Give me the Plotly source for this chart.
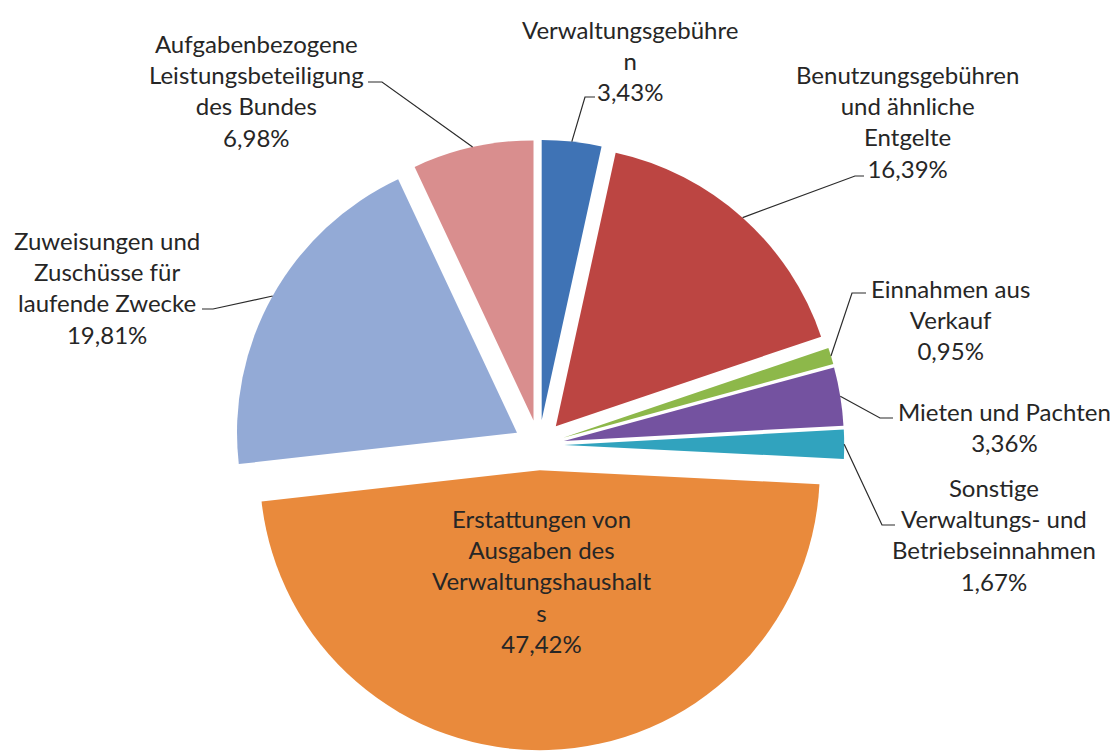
import math
import plotly.graph_objects as go

# ---- data ----
labels = [
    "Verwaltungsgebühren",
    "Benutzungsgebühren und ähnliche Entgelte",
    "Einnahmen aus Verkauf",
    "Mieten und Pachten",
    "Sonstige Verwaltungs- und Betriebseinnahmen",
    "Erstattungen von Ausgaben des Verwaltungshaushalts",
    "Zuweisungen und Zuschüsse für laufende Zwecke",
    "Aufgabenbezogene Leistungsbeteiligung des Bundes",
]
values = [3.43, 16.39, 0.95, 3.36, 1.67, 47.42, 19.81, 6.98]
label_text = [
    "Verwaltungsgebühre<br>n<br>3,43%",
    "Benutzungsgebühren<br>und ähnliche<br>Entgelte<br>16,39%",
    "Einnahmen aus<br>Verkauf<br>0,95%",
    "Mieten und Pachten<br>3,36%",
    "Sonstige<br>Verwaltungs- und<br>Betriebseinnahmen<br>1,67%",
    "Erstattungen von<br>Ausgaben des<br>Verwaltungshaushalt<br>s<br>47,42%",
    "Zuweisungen und<br>Zuschüsse für<br>laufende Zwecke<br>19,81%",
    "Aufgabenbezogene<br>Leistungsbeteiligung<br>des Bundes<br>6,98%",
]
colors = ["#3F73B5", "#BC4542", "#8DB84A", "#7452A0",
          "#31A3BE", "#E98A3C", "#93AAD6", "#D98E8E"]

# ---- layout (pixels) ----
W, H = 1119, 751
CX, CY = 539.0, 445.0
R = 280.0
PULL = 0.09
S = 2 * R * (1 + PULL)

# label centre (x, y of block centre) and leader elbow / end points (None = no leader)
label_pos = [
    (630, 61), (908, 121), (950, 319), (1004, 427),
    (994, 534), (541, 581), (107, 288), (256, 91),
]
leaders = [
    ((585, 97), (595, 97)),
    ((855, 176), (864, 176)),
    ((852, 293), (866, 293)),
    ((880, 418), (893, 418)),
    ((882, 525), (895, 525)),
    None,
    ((213, 309), (202, 309)),
    ((382, 82), (368, 82)),
]

def px(x):
    return x / W

def py(y):
    return 1 - y / H

fig = go.Figure(go.Pie(
    labels=labels,
    values=values,
    sort=False,
    direction="clockwise",
    rotation=0,
    pull=[PULL] * len(values),
    marker=dict(colors=colors, line=dict(width=0)),
    textinfo="none",
    hoverinfo="label+percent",
    showlegend=False,
    domain=dict(x=[px(CX - S / 2), px(CX + S / 2)],
                y=[max(0, py(CY + S / 2)), py(CY - S / 2)]),
))

total = sum(values)
cum = 0.0
shapes = []
annotations = []
for i, v in enumerate(values):
    mid = (cum + v / 2) / total * 2 * math.pi
    cum += v
    rr = R * (1 + PULL)
    ex = CX + rr * math.sin(mid)
    ey = CY - rr * math.cos(mid)
    if leaders[i] is not None:
        (bx, by), (qx, qy) = leaders[i]
        shapes.append(dict(
            type="path", xref="paper", yref="paper",
            path=f"M {px(ex)},{py(ey)} L {px(bx)},{py(by)} L {px(qx)},{py(qy)}",
            line=dict(color="#2b2b2b", width=1.2),
        ))
    lx, ly = label_pos[i]
    annotations.append(dict(
        x=px(lx), y=py(ly), xref="paper", yref="paper",
        text=label_text[i], showarrow=False, align="center",
        xanchor="center", yanchor="middle",
        font=dict(family="Lato, 'Open Sans', sans-serif", size=24, color="#262626"),
    ))

fig.update_layout(
    width=W, height=H,
    margin=dict(l=0, r=0, t=0, b=0),
    paper_bgcolor="white",
    plot_bgcolor="white",
    shapes=shapes,
    annotations=annotations,
)

fig.write_html(
    "out.html",
    config={"displayModeBar": False},
    post_script="document.body.style.margin='0';document.body.style.overflow='hidden';",
)
